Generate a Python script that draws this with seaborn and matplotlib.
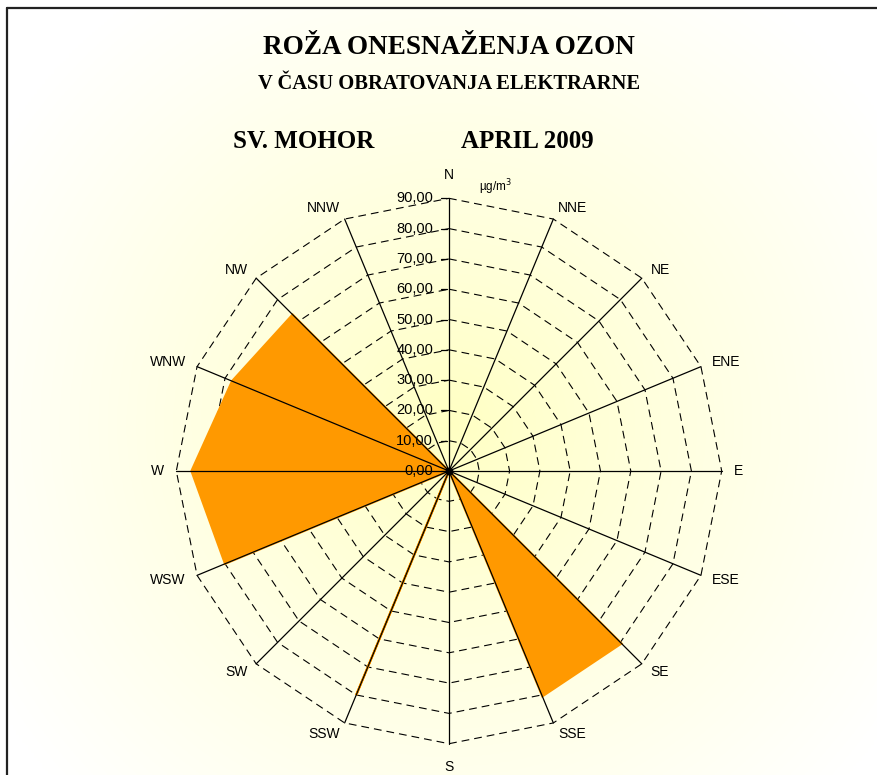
import numpy as np
import pandas as pd
import seaborn as sns

from matplotlib import pyplot as plt
from matplotlib.lines import Line2D

# wind directions, clockwise from north
DIRECTIONS = ['N', 'NNE', 'NE', 'ENE', 'E', 'ESE', 'SE', 'SSE',
              'S', 'SSW', 'SW', 'WSW', 'W', 'WNW', 'NW', 'NNW']
# ozone concentration per direction (ug/m3)
OZONE = [0, 0, 0, 0, 0, 0, 80.5, 80.5,
         0, 80, 0, 80, 85, 77.5, 73, 0]
RINGS = [10, 20, 30, 40, 50, 60, 70, 80, 90]
RING_LABELS = ['0,00', '10,00', '20,00', '30,00', '40,00', '50,00',
               '60,00', '70,00', '80,00', '90,00']

W_PX, H_PX = 878, 775
CX, CY = 449, 471          # centre of rose in pixels
SCALE = 3.03               # pixels per ug/m3


def polar_xy(r, i):
    ang = np.deg2rad(22.5 * i)
    return r * np.sin(ang), r * np.cos(ang)


def main():
    sns.set_style('white')
    plt.rcParams['font.family'] = ['Liberation Sans', 'DejaVu Sans']
    plt.rcParams['text.color'] = 'black'

    fig = plt.figure(figsize=(W_PX / 100, H_PX / 100), dpi=100)
    ax = fig.add_axes([0, 0, 1, 1])
    xlim = (-CX / SCALE, (W_PX - CX) / SCALE)
    ylim = (-(H_PX - CY) / SCALE, CY / SCALE)

    # soft yellow radial background
    gx, gy = np.meshgrid(np.linspace(*xlim, 300), np.linspace(*ylim, 300))
    d = np.clip(np.hypot(gx, gy - 15) / 175, 0, 1)
    blue = 0.76 + 0.24 * d ** 0.85
    img = np.dstack([np.ones_like(d), np.ones_like(d), blue])
    ax.imshow(img, extent=(*xlim, *ylim), origin='lower', zorder=0, aspect='auto')

    # polygonal dashed rings
    rows = []
    for r in RINGS:
        for i in range(17):
            x, y = polar_xy(r, i % 16)
            rows.append({'ring': r, 'order': i, 'x': x, 'y': y})
    rings = pd.DataFrame(rows)
    sns.lineplot(data=rings, x='x', y='y', units='ring', estimator=None, sort=False,
                 color='black', lw=0.8, linestyle=(0, (7, 4.5)), ax=ax, zorder=2)

    # filled ozone rose
    px, py = zip(*[polar_xy(v, i) for i, v in enumerate(OZONE)])
    ax.fill(px, py, facecolor='#FF9900', edgecolor='#FF9900', lw=1.6, zorder=3)

    # spokes
    for i in range(16):
        x, y = polar_xy(90, i)
        ax.plot([0, x], [0, y], color='black', lw=0.9, zorder=4)
    ax.scatter([0], [0], s=22, color='black', zorder=5)

    # direction labels
    for i, name in enumerate(DIRECTIONS):
        ang = 22.5 * i
        if name in ('N', 'S'):
            x, y = polar_xy(95.5, i)
            ax.text(x, y, name, ha='center', va='bottom' if name == 'N' else 'top',
                    fontsize=10, zorder=6)
        else:
            x, y = polar_xy(94, i)
            ha = 'left' if ang < 180 else 'right'
            ax.text(x, y, name, ha=ha, va='center', fontsize=10, zorder=6)

    # radial axis ticks and labels
    for k, lab in enumerate(RING_LABELS):
        r = 10 * k
        ax.plot([-2.6, -0.6], [r, r], color='black', lw=0.9, zorder=4)
        ax.text(-5.2, r, lab, ha='right', va='center', fontsize=10.5, zorder=6)
    ax.text(10, 93.5, 'µg/m$^3$', ha='left', va='center', fontsize=8.5, zorder=6)

    ax.set_xlim(*xlim)
    ax.set_ylim(*ylim)
    ax.axis('off')

    serif = ['Liberation Serif', 'DejaVu Serif']
    fig.text(449 / W_PX, 1 - 47 / H_PX, 'ROŽA ONESNAŽENJA OZON', ha='center', va='center',
             fontsize=19.5, fontweight='bold', family=serif)
    fig.text(449 / W_PX, 1 - 84 / H_PX, 'V ČASU OBRATOVANJA ELEKTRARNE', ha='center',
             va='center', fontsize=14.8, fontweight='bold', family=serif)
    fig.text(304 / W_PX, 1 - 141 / H_PX, 'SV. MOHOR', ha='center', va='center',
             fontsize=18, fontweight='bold', family=serif)
    fig.text(527 / W_PX, 1 - 141 / H_PX, 'APRIL 2009', ha='center', va='center',
             fontsize=18, fontweight='bold', family=serif)

    # outer frame
    fig.add_artist(Line2D([7 / W_PX, 1], [1 - 7.5 / H_PX] * 2, color='#222222', lw=1.6))
    fig.add_artist(Line2D([7 / W_PX] * 2, [0, 1 - 7.5 / H_PX], color='#222222', lw=1.6))

    fig.savefig('out.png', dpi=100, facecolor='white')


if __name__ == '__main__':
    main()
